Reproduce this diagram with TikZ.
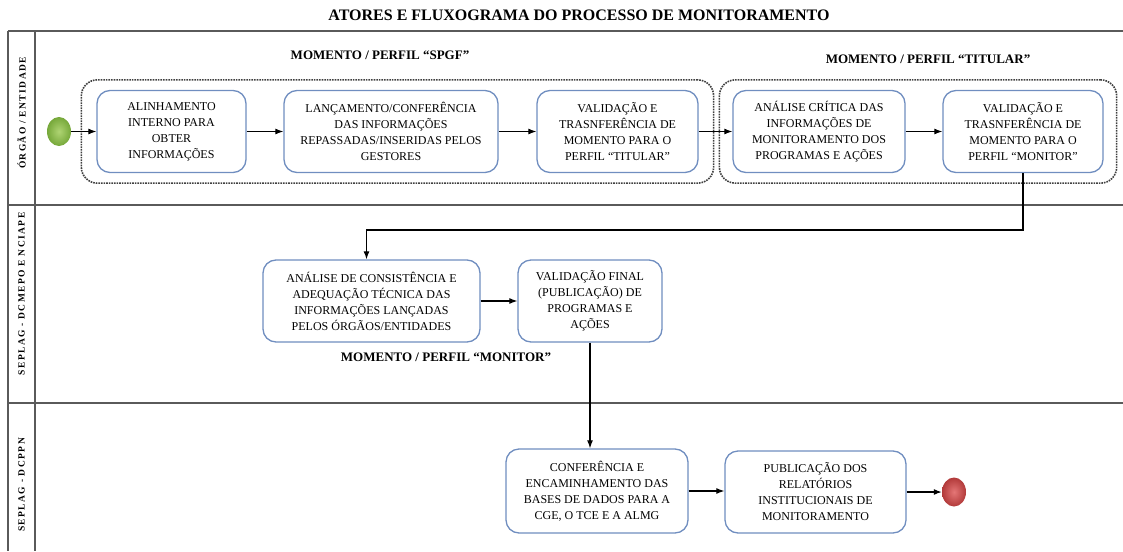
\documentclass[tikz,border=0pt]{standalone}
\usepackage{fontspec}
\setmainfont{Liberation Serif}
\usetikzlibrary{arrows.meta,positioning,fit,shapes.geometric}
\definecolor{boxblue}{RGB}{112,142,192}
\definecolor{lanegray}{RGB}{90,90,90}
\definecolor{greenin}{RGB}{175,212,115}
\definecolor{greenout}{RGB}{118,168,58}
\definecolor{redin}{RGB}{228,118,118}
\definecolor{redout}{RGB}{178,58,58}
\newcommand{\lanefont}{\bfseries\fontsize{9.5}{10}\selectfont\addfontfeature{LetterSpace=15}}

\begin{document}
\begin{tikzpicture}[x=1pt,y=-1pt,>={Latex[length=8pt,width=6pt]},
  act/.style={draw=boxblue,line width=1.3pt,rounded corners=13pt,fill=white,align=center,
    font=\fontsize{12}{16}\selectfont,inner sep=2pt},
  grp/.style={draw=black!75,densely dotted,line width=1.6pt,rounded corners=16pt,inner xsep=15pt,inner ysep=10pt},
  tag/.style={font=\bfseries\fontsize{13}{15}\selectfont},
  lane/.style={rotate=90,font=\lanefont},
  ball/.style={ellipse,minimum width=24pt,minimum height=29pt,inner sep=0pt,shading=radial},
  flow/.style={->,line width=1.2pt}]
  \useasboundingbox (0,0) rectangle (1123,551);

  % lanes
  \draw[lanegray,line width=1.6pt] (8,31) -- (1123,31);
  \draw[lanegray,line width=1.6pt] (8,205) -- (1123,205);
  \draw[lanegray,line width=1.6pt] (8,403) -- (1123,403);
  \draw[lanegray,line width=1.2pt] (8,31) -- (8,551);
  \draw[lanegray,line width=1.2pt] (35,31) -- (35,551);
  \node[lane] (l1) at (21.5,113) {ÓRGÃO / ENTIDADE};
  \node[lane] (l2) at (21.5,294) {SEPLAG - DCMEPO E NCIAPE};
  \node[lane] (l3) at (21.5,485) {SEPLAG - DCPPN};

  \node[font=\bfseries\fontsize{16}{18}\selectfont] (title) at (579,15) {ATORES E FLUXOGRAMA DO PROCESSO DE MONITORAMENTO};

  % perfil SPGF e TITULAR
  \node[ball,inner color=greenin,outer color=greenout] (start) at (59,131.5) {};
  \node[act,minimum width=149pt,minimum height=82pt] (b1) at (171.5,131.5) {ALINHAMENTO\\INTERNO PARA\\OBTER\\INFORMAÇÕES};
  \node[act,minimum width=214pt,minimum height=82pt] (b2) at (391,131.5) {LANÇAMENTO/CONFERÊNCIA\\DAS INFORMAÇÕES\\REPASSADAS/INSERIDAS PELOS\\GESTORES};
  \node[act,minimum width=161pt,minimum height=82pt] (b3) at (617.5,131.5) {VALIDAÇÃO E\\TRASNFERÊNCIA DE\\MOMENTO PARA O\\PERFIL “TITULAR”};
  \node[act,minimum width=172pt,minimum height=82pt] (b4) at (819,131.5) {ANÁLISE CRÍTICA DAS\\INFORMAÇÕES DE\\MONITORAMENTO DOS\\PROGRAMAS E AÇÕES};
  \node[act,minimum width=160pt,minimum height=82pt] (b5) at (1023,131.5) {VALIDAÇÃO E\\TRASNFERÊNCIA DE\\MOMENTO PARA O\\PERFIL “MONITOR”};
  \node[grp,fit=(b1)(b3)] (spgf) {};
  \node[grp,fit=(b4)(b5),inner xsep=13pt] (titular) {};
  \node[tag] (tspgf) at (380,55) {MOMENTO / PERFIL “SPGF”};
  \node[tag] (ttitular) at (928,59) {MOMENTO / PERFIL “TITULAR”};

  % perfil MONITOR
  \node[act,minimum width=217pt,minimum height=82pt] (b6) at (371.5,301) {ANÁLISE DE CONSISTÊNCIA E\\ADEQUAÇÃO TÉCNICA DAS\\INFORMAÇÕES LANÇADAS\\PELOS ÓRGÃOS/ENTIDADES};
  \node[act,minimum width=144pt,minimum height=82pt] (b7) at (590,301) {VALIDAÇÃO FINAL\\(PUBLICAÇÃO) DE\\PROGRAMAS E\\AÇÕES};
  \node[tag] (tmonitor) at (446,357) {MOMENTO / PERFIL “MONITOR”};

  % DCPPN
  \node[act,minimum width=182pt,minimum height=84pt] (b8) at (597,491) {CONFERÊNCIA E\\ENCAMINHAMENTO DAS\\BASES DE DADOS PARA A\\CGE, O TCE E A ALMG};
  \node[act,minimum width=181pt,minimum height=82pt] (b9) at (815.5,492) {PUBLICAÇÃO DOS\\RELATÓRIOS\\INSTITUCIONAIS DE\\MONITORAMENTO};
  \node[ball,inner color=redin,outer color=redout] (stop) at (954,492) {};

  \coordinate (kink) at (700,230);
  \draw[flow] (start) -- (b1);
  \draw[flow] (b1) -- (b2);
  \draw[flow] (b2) -- (b3);
  \draw[flow] (b3) -- (b4);
  \draw[flow] (b4) -- (b5);
  \draw[flow] (b5.south) |- (kink) -| ([xshift=-5pt]b6.north);
  \draw[flow] (b6) -- (b7);
  \draw[flow] (b7.south) -- (b7.south |- b8.north);
  \draw[flow] (b8.east) -- (b8.east -| b9.west);
  \draw[flow] (b9) -- (stop);
\end{tikzpicture}
\end{document}
